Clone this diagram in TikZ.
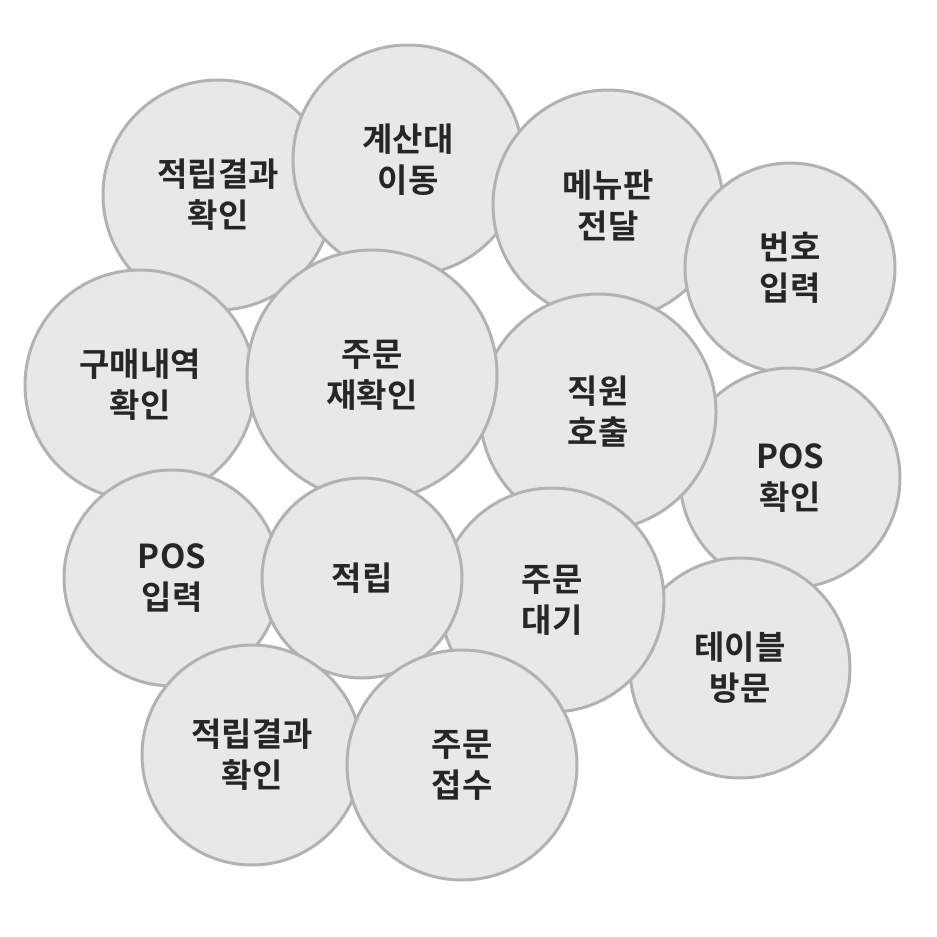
\documentclass[tikz,border=0pt]{standalone}
\usepackage{fontspec}
\newfontfamily\kr{Noto Sans CJK KR}[BoldFont=* Bold]
\begin{document}
\begin{tikzpicture}[x=1pt,y=-1pt,
  bub/.style={draw=black!30,fill=black!9,line width=3pt},
  lbl/.style={font=\kr\bfseries\fontsize{33}{41}\selectfont,align=center,text=black!85}]
\useasboundingbox (0,0) rectangle (937,937);
\fill[white] (0,0) rectangle (937,937);
\newcommand\bb[5]{\draw[bub] (#1,#2) circle (#3); \node[lbl] (#4) at (#1,#2) {#5};}
\bb{218}{195}{115}{a}{적립결과\\확인}
\bb{408}{160}{115}{b}{계산대\\이동}
\bb{608}{205}{115}{c}{메뉴판\\전달}
\bb{790}{268}{105}{d}{번호\\입력}
\bb{140}{385}{115}{e}{구매내역\\확인}
\bb{790}{478}{110}{f}{POS\\확인}
\bb{172}{578}{108}{g}{POS\\입력}
\bb{740}{668}{110}{h}{테이블\\방문}
\bb{598}{412}{118}{i}{직원\\호출}
\bb{372}{375}{125}{j}{주문\\재확인}
\bb{552}{600}{112}{k}{주문\\대기}
\bb{362}{578}{100}{l}{적립}
\bb{252}{755}{110}{m}{적립결과\\확인}
\bb{462}{765}{115}{n}{주문\\접수}
\end{tikzpicture}
\end{document}
